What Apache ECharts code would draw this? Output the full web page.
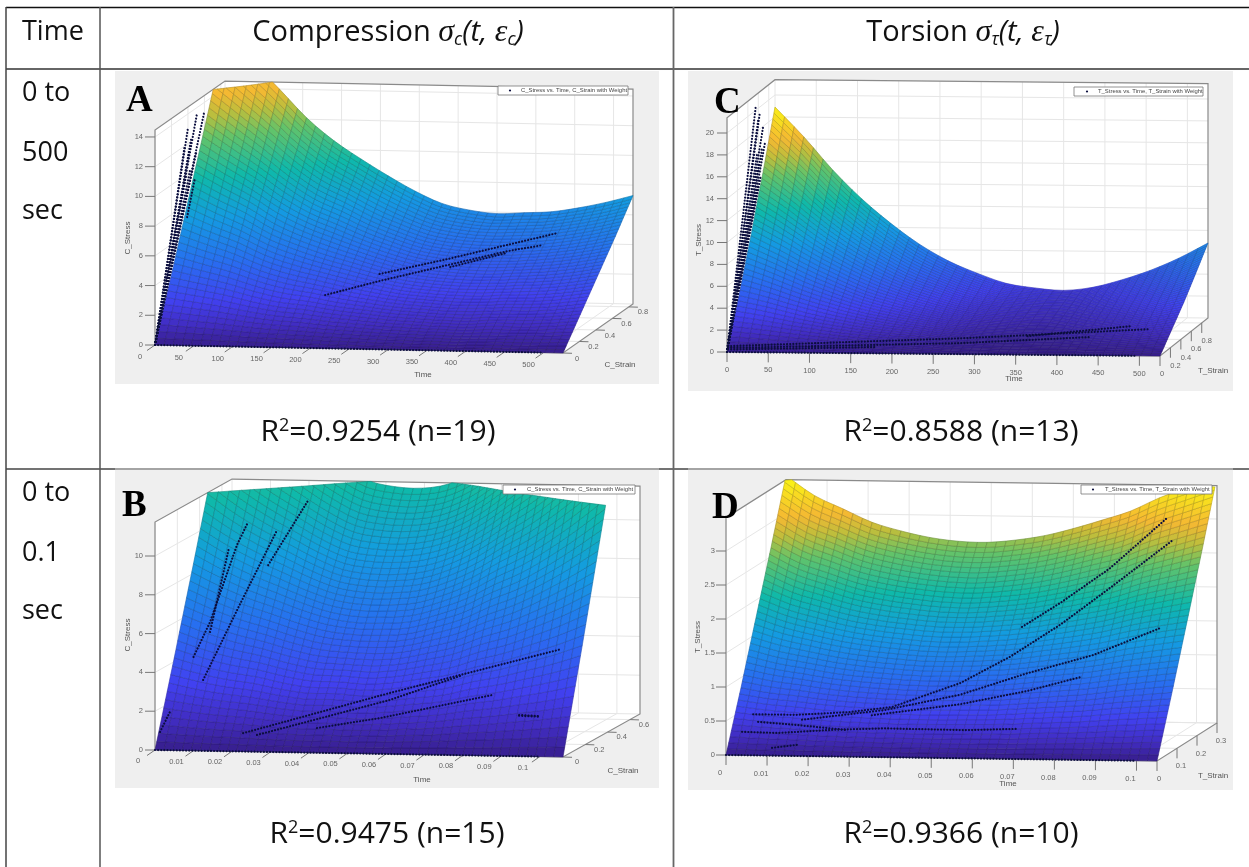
<!DOCTYPE html>
<html><head><meta charset="utf-8">
<style>html,body{margin:0;padding:0;background:#fff}#c{width:1249px;height:867px}</style>
<script src="https://cdn.jsdelivr.net/npm/echarts@6/dist/echarts.min.js"></script>
</head><body><div id="c"></div>
<script>
// ---------- values ----------
const timeA=[0,35,70,105,140,175,210,245,280,315,350,385,420,455,490,525];
const strainA=[0,0.2125,0.425,0.6375,0.85];
const stressA=[
[0,0,0,0,0,0,0,0,0,0,0,0,0,0,0,0],
[4.2,3.8,3.4,2.9,2.5,2.3,2.0,1.8,1.6,1.5,1.4,1.4,1.5,1.5,1.6,1.8],
[8.6,7.7,6.9,5.9,5.2,4.6,4.1,3.6,3.2,3.0,2.9,2.9,3.0,3.1,3.3,3.6],
[13.0,11.7,10.4,9.0,7.8,7.0,6.1,5.4,4.8,4.5,4.4,4.4,4.5,4.7,5.0,5.4],
[17.5,15.8,14.0,12.1,10.6,9.4,8.3,7.3,6.5,6.1,5.9,6.0,6.1,6.4,6.8,7.3]];
const pointsA=[
[[0,0,0],[500,0,0]],
[[0,0,0],[0,0.40,13.05]],
[[0,0,0],[0,0.51,13.6]],
[[0,0,0],[0,0.595,13.3]],
[[0,0,0],[0,0.425,10.1]],
[[0,0,0],[0,0.42,11.5]],
[[0,0,0],[0,0.38,10.0]],
[[0,0,0],[0,0.36,12.0]],
[[0,0,0],[0,0.44,12.2]],
[[0,0,0],[0,0.50,11.0]],
[[0,0.39,7.1],[0,0.485,9.35]],
[[192,0.255,2.57],[262,0.255,3.59],[426,0.255,5.76],[472,0.255,6.22]],
[[262,0.255,4.06],[349,0.255,5.15],[491,0.255,7.05]],
[[353,0.255,4.62],[426,0.255,5.65]]];
const timeTicksA=[0,50,100,150,200,250,300,350,400,450,500];
const stressTicksA=[0,2,4,6,8,10,12,14];
const strainTicksA=[0,0.2,0.4,0.6,0.8];

const timeB=[0,0.0071,0.0141,0.0212,0.0283,0.0353,0.0424,0.0495,0.0565,0.0636,0.0707,0.0777,0.0848,0.0919,0.0989,0.106];
const strainB=[0,0.1725,0.345,0.5175,0.69];
const stressB=[
[0,0,0,0,0,0,0,0,0,0,0,0,0,0,0,0],
[4.2,3.8,3.5,3.3,3.0,2.8,2.8,2.7,2.8,3.0,3.2,3.6,3.9,4.3,4.7,5.2],
[8.5,7.8,7.2,6.7,6.2,5.8,5.6,5.6,5.7,6.1,6.6,7.3,7.9,8.7,9.6,10.6],
[12.9,11.8,10.9,10.1,9.3,8.7,8.5,8.5,8.7,9.2,10.0,11.0,12.0,13.2,14.5,16.0],
[17.4,16.0,14.7,13.6,12.6,11.8,11.5,11.45,11.7,12.4,13.5,14.8,16.2,17.8,19.6,21.6]];
const pointsB=[
[[0,0,0],[0.1,0,0]],
[[0.0003,0.035,0.82],[0.0031,0.035,1.96]],
[[0,0.345,3.69],[0.0043,0.345,5.5],[0.0113,0.345,9.5],[0.0142,0.345,10.7]],
[[0.0043,0.345,4.99],[0.0092,0.345,9.33]],
[[0.0025,0.345,2.51],[0.0121,0.345,6.46],[0.0217,0.345,10.3]],
[[0.0194,0.345,8.49],[0.03,0.345,11.93]],
[[0.0189,0.138,0.49],[0.057,0.138,2.69],[0.1017,0.138,5.11]],
[[0.0225,0.138,0.41],[0.057,0.138,2.33],[0.076,0.138,3.68]],
[[0.0381,0.138,0.82],[0.0545,0.138,1.39],[0.0835,0.138,2.67]],
[[0.0906,0.138,1.67],[0.0955,0.138,1.63]],
[[0.0906,0.138,1.63],[0.0955,0.138,1.6]]];
const timeTicksB=[0,0.01,0.02,0.03,0.04,0.05,0.06,0.07,0.08,0.09,0.1];
const stressTicksB=[0,2,4,6,8,10];
const strainTicksB=[0,0.2,0.4,0.6];

const timeC=[0,35,70,105,140,175,210,245,280,315,350,385,420,455,490,525];
const strainC=[0,0.23,0.46,0.69,0.92];
const stressC=[
[0,0,0,0,0,0,0,0,0,0,0,0,0,0,0,0],
[4.3,3.7,3.0,2.4,1.9,1.5,1.2,0.9,0.7,0.6,0.6,0.6,0.8,1.0,1.25,1.6],
[8.9,7.6,6.2,5.0,3.9,3.1,2.4,1.8,1.4,1.2,1.1,1.3,1.6,2.0,2.6,3.2],
[13.8,11.8,9.6,7.7,6.1,4.7,3.7,2.8,2.2,1.9,1.8,2.0,2.5,3.1,3.95,5.0],
[18.9,16.2,13.2,10.6,8.4,6.5,5.0,3.9,3.0,2.6,2.4,2.7,3.4,4.3,5.45,6.85]];
const pointsC=[
[[0,0,0],[496,0,0]],
[[0,0,0],[0,0.55,20.3]],
[[0,0,0],[0,0.63,19.5]],
[[0,0,0],[0,0.69,17.9]],
[[0,0,0],[0,0.73,16.4]],
[[0,0,0],[0,0.65,13.7]],
[[0,0,0],[0,0.60,19.0]],
[[0,0,0],[0,0.58,16.0]],
[[0,0,0],[0,0.62,15.0]],
[[0,0,0],[0,0.67,16.0]],
[[0,0,0],[0,0.60,13.0]],
[[0,0.02,0.46],[288,0.02,1.39],[512,0.02,2.37]],
[[0,0.02,0.3],[282,0.02,0.93],[439,0.02,1.59]],
[[0,0.02,0.15],[180,0.02,0.5]],
[[363,0.02,1.63],[488,0.02,2.62]]];
const timeTicksC=[0,50,100,150,200,250,300,350,400,450,500];
const stressTicksC=[0,2,4,6,8,10,12,14,16,18,20];
const strainTicksC=[0,0.2,0.4,0.6,0.8];

const timeD=[0,0.007,0.014,0.021,0.028,0.035,0.042,0.049,0.056,0.063,0.07,0.077,0.084,0.091,0.098,0.105];
const strainD=[0,0.075,0.15,0.225,0.3];
const stressD=[
[0,0,0,0,0,0,0,0,0,0,0,0,0,0,0,0],
[0.85,0.78,0.74,0.69,0.66,0.64,0.63,0.63,0.64,0.65,0.68,0.71,0.74,0.79,0.83,0.87],
[1.74,1.60,1.50,1.41,1.35,1.31,1.28,1.28,1.30,1.33,1.39,1.45,1.52,1.62,1.70,1.77],
[2.63,2.41,2.27,2.13,2.04,1.98,1.94,1.93,1.96,2.01,2.09,2.19,2.29,2.44,2.56,2.68],
[3.55,3.26,3.07,2.88,2.76,2.67,2.62,2.61,2.65,2.72,2.83,2.96,3.10,3.30,3.46,3.62]];
const pointsD=[
[[0,0,0],[0.1,0,0]],
[[0.0037,0.06,0.49],[0.0139,0.06,0.49],[0.0268,0.06,0.54],[0.0375,0.06,0.625],[0.0541,0.06,0.99],[0.0663,0.06,1.39],[0.0785,0.06,1.87],[0.0906,0.06,2.42],[0.106,0.06,3.14]],
[[0.0692,0.06,1.83],[0.0785,0.06,2.19],[0.0906,0.06,2.71],[0.1045,0.06,3.46]],
[[0.0156,0.06,0.42],[0.0358,0.06,0.58],[0.0541,0.06,0.82],[0.0705,0.06,1.15],[0.0865,0.06,1.43],[0.1028,0.06,1.84]],
[[0.0049,0.06,0.38],[0.0146,0.06,0.34],[0.0261,0.06,0.28]],
[[0.001,0.06,0.23],[0.0097,0.06,0.22],[0.0236,0.06,0.28],[0.0358,0.06,0.31],[0.0553,0.06,0.30],[0.0682,0.06,0.33]],
[[0.0326,0.06,0.50],[0.0541,0.06,0.68],[0.0705,0.06,0.89],[0.0838,0.06,1.11]],
[[0.0083,0.06,0],[0.0144,0.06,0.05]]];
const timeTicksD=[0,0.01,0.02,0.03,0.04,0.05,0.06,0.07,0.08,0.09,0.1];
const stressTicksD=[0,0.5,1,1.5,2,2.5,3];
const strainTicksD=[0,0.1,0.2,0.3];

const rowLabels=[['0 to','500','sec'],['0 to','0.1','sec']];
const fitLabels=['0.9254 (n=19)','0.9475 (n=15)','0.8588 (n=13)','0.9366 (n=10)'];

// ---------- layout ----------
const panels=[
{t:timeA,s:strainA,z:stressA,pts:pointsA,tt:timeTicksA,zt:stressTicksA,st:strainTicksA,letter:'A',
 zName:'C_Stress',sName:'C_Strain',legend:'C_Stress vs. Time, C_Strain with Weight',
 box:[115,71,659,384],O:[155,345],ex:[408,8],ey:[70,-49],u:14.86,zMax:14.46,cMax:16.5,slant:true,
 tLab:[-15,12],sLab:[14,5.5],zLabX:143,tTitle:[423,375],sTitle:[620,365],zTitle:[128,238],
 leg:[498,86,628,95],dot:510,legText:521,let:[126,120]},
{t:timeB,s:strainB,z:stressB,pts:pointsB,tt:timeTicksB,zt:stressTicksB,st:strainTicksB,letter:'B',
 zName:'C_Stress',sName:'C_Strain',legend:'C_Stress vs. Time, C_Strain with Weight',
 box:[115,470,659,788],O:[155,750],ex:[408,7],ey:[77,-43],u:19.4,zMax:11.75,cMax:20,slant:true,
 tLab:[-17,11],sLab:[14,5],zLabX:143,tTitle:[422,780],sTitle:[623,771],zTitle:[128,635],
 leg:[503,485,635,494],dot:515,legText:527,let:[122,525]},
{t:timeC,s:strainC,z:stressC,pts:pointsC,tt:timeTicksC,zt:stressTicksC,st:strainTicksC,letter:'C',
 zName:'T_Stress',sName:'T_Strain',legend:'T_Stress vs. Time, T_Strain with Weight',
 box:[688,71,1233,391],O:[727,352],ex:[433,4],ey:[48,-38],u:10.95,zMax:21.4,cMax:18.9,slant:false,
 tLab:[0,18],sLab:[5,18],zLabX:714,tTitle:[1014,379],sTitle:[1213,371],zTitle:[699,240],
 leg:[1074,87,1203,96],dot:1087,legText:1098,let:[714,122]},
{t:timeD,s:strainD,z:stressD,pts:pointsD,tt:timeTicksD,zt:stressTicksD,st:strainTicksD,letter:'D',
 zName:'T_Stress',sName:'T_Strain',legend:'T_Stress vs. Time, T_Strain with Weight',
 box:[688,470,1233,790],O:[726,755],ex:[431,6],ey:[60,-38],u:68,zMax:3.49,cMax:3.5,slant:false,
 tLab:[-6,18],sLab:[4,18],zLabX:715,tTitle:[1008,784],sTitle:[1213,776],zTitle:[698,637],
 leg:[1081,485,1212,494],dot:1093,legText:1105,let:[712,527]}
];
const SUB_T=3, SUB_S=11;
const ramp=[[0,55,30,140],[0.07,65,45,195],[0.15,65,65,240],[0.28,40,110,240],[0.43,20,155,225],[0.57,15,185,170],[0.71,100,195,105],[0.79,190,190,60],[0.86,245,185,50],[1,250,245,20]];
function rampColor(v){
  v=Math.max(0,Math.min(1,v));
  let i=0;while(i<ramp.length-2&&v>ramp[i+1][0])i++;
  const a=ramp[i],b=ramp[i+1],f=(v-a[0])/(b[0]-a[0]);
  return [1,2,3].map(k=>a[k]+(b[k]-a[k])*f);
}
function project(p,t,s,z){
  const T=p.t[p.t.length-1],S=p.s[p.s.length-1];
  return [t+(s/S)*(p.ey[0]/p.ex[0])*T, z-(s/S)*p.ey[1]/p.u-(t/T)*p.ex[1]/p.u];
}
function clipTop(poly,zMax){
  const out=[];
  for(let i=0;i<poly.length;i++){
    const a=poly[i],b=poly[(i+1)%poly.length],ai=a[2]<=zMax,bi=b[2]<=zMax;
    if(ai)out.push(a);
    if(ai!==bi){const k=(zMax-a[2])/(b[2]-a[2]);out.push([a[0]+(b[0]-a[0])*k,a[1]+(b[1]-a[1])*k,zMax]);}
  }
  return out;
}
// the drawn mesh is finer than the table: each table row is drawn as a smooth curve through its values
function curve(row,c,u){
  const n=row.length,p1=row[c],p2=row[c+1];
  const p0=c>0?row[c-1]:2*p1-p2,p3=c+2<n?row[c+2]:2*p2-p1;
  return 0.5*(2*p1+(p2-p0)*u+(2*p0-5*p1+4*p2-p3)*u*u+(3*p1-p0-3*p2+p3)*u*u*u);
}
function buildCells(p){
  const cells=[];
  for(let r=0;r<p.s.length-1;r++)for(let c=0;c<p.t.length-1;c++){
    const at=(u,v)=>[p.t[c]+(p.t[c+1]-p.t[c])*u,p.s[r]+(p.s[r+1]-p.s[r])*v,
      curve(p.z[r],c,u)*(1-v)+curve(p.z[r+1],c,u)*v];
    for(let j=0;j<SUB_S;j++)for(let i=0;i<SUB_T;i++){
      const u0=i/SUB_T,u1=(i+1)/SUB_T,v0=j/SUB_S,v1=(j+1)/SUB_S;
      const poly=clipTop([at(u0,v0),at(u1,v0),at(u1,v1),at(u0,v1)],p.zMax);
      if(poly.length>2)cells.push(poly);
    }
  }
  return cells;
}
const LABEL='Liberation Sans';
function frameItems(p){
  const T=p.t[p.t.length-1],S=p.s[p.s.length-1],Z=p.zMax,it=[];
  const poly=(pts,fill)=>it.push({k:'poly',pts,fill});
  const line=(pts,c,w,off)=>it.push({k:'line',pts,c,w,off});
  const txt=(pt,off,text,o)=>it.push(Object.assign({k:'text',pt,off,text},o||{}));
  poly([[0,S,0],[T,S,0],[T,S,Z],[0,S,Z]],'#fff');
  poly([[0,0,0],[0,S,0],[0,S,Z],[0,0,Z]],'#fff');
  poly([[0,0,0],[T,0,0],[T,S,0],[0,S,0]],'#fff');
  const grid='#e6e6e6';
  p.tt.forEach(v=>{line([[v,S,0],[v,S,Z]],grid,1);line([[v,0,0],[v,S,0]],grid,1);});
  p.zt.forEach(v=>{line([[0,0,v],[0,S,v]],grid,1);line([[0,S,v],[T,S,v]],grid,1);});
  p.st.forEach(v=>{line([[0,v,0],[T,v,0]],grid,1);line([[0,v,0],[0,v,Z]],grid,1);});
  const edge='#8a8a8a';
  line([[0,0,0],[0,0,Z],[0,S,Z],[T,S,Z],[T,S,0],[T,0,0],[0,0,0]],edge,1.2);
  p.tt.forEach(v=>{
    line([[v,0,0]],'#777',1,p.slant?[-8,5.5]:[0,10]);
    txt([v,0,0],p.tLab,String(v));
  });
  p.zt.forEach(v=>{
    line([[0,0,v]],'#777',1,[-10,0]);
    txt([0,0,v],[p.zLabX-p.O[0],0],String(v),{align:'right'});
  });
  p.st.forEach(v=>{
    line([[T,v,0]],'#777',1,p.slant?[9,0.3]:[0,10]);
    txt([T,v,0],v===0?[p.slant?p.sLab[0]:2,p.sLab[1]]:p.sLab,String(v));
  });
  return it;
}
function frameRender(p,items){
  return function(params,api){
    const d=items[params.dataIndex];
    const pos=q=>api.coord(project(p,q[0],q[1],q[2]));
    if(d.k==='poly')return {type:'polygon',shape:{points:d.pts.map(pos)},style:{fill:d.fill,stroke:null}};
    if(d.k==='line'){
      let pts=d.pts.map(pos);
      if(d.off)pts=[pts[0],[pts[0][0]+d.off[0],pts[0][1]+d.off[1]]];
      return {type:'polyline',shape:{points:pts},style:{stroke:d.c,lineWidth:d.w,fill:null}};
    }
    const q=pos(d.pt);
    return {type:'text',style:{x:q[0]+d.off[0],y:q[1]+d.off[1],text:d.text,fill:'#666',
      font:'7.5px "'+LABEL+'"',align:d.align||'center',verticalAlign:'middle'}};
  };
}
const grids=[],xAxes=[],yAxes=[],series=[];
panels.forEach((p,i)=>{
  const T=p.t[p.t.length-1];
  grids.push({left:p.O[0],width:p.ex[0],top:p.O[1]-p.zMax*p.u,height:p.zMax*p.u,show:false});
  xAxes.push({type:'value',gridIndex:i,min:0,max:T,show:false});
  yAxes.push({type:'value',gridIndex:i,min:0,max:p.zMax,show:false});
  const items=frameItems(p);
  series.push({type:'custom',name:p.letter+' frame',xAxisIndex:i,yAxisIndex:i,z:2,silent:true,
    renderItem:frameRender(p,items),data:items.map((_,k)=>[k]),progressive:0,animation:false});
  const cells=buildCells(p);
  series.push({type:'custom',name:p.letter+' surface',xAxisIndex:i,yAxisIndex:i,z:3,silent:true,
    renderItem(params,api){
      const poly=cells[params.dataIndex];
      let m=0;poly.forEach(q=>m+=q[2]);m/=poly.length;
      const c=rampColor(m/p.cMax);
      const rgb=k=>'rgb('+c.map(x=>Math.round(x*k)).join(',')+')';
      return {type:'polygon',shape:{points:poly.map(q=>api.coord(project(p,q[0],q[1],q[2])))},
        style:{fill:rgb(1),stroke:rgb(0.75),lineWidth:0.6}};
    },data:cells.map((_,k)=>[k]),progressive:0,animation:false});
  series.push({type:'custom',name:p.zName+' vs. Time, '+p.sName,xAxisIndex:i,yAxisIndex:i,z:4,silent:true,
    renderItem(params,api){
      return {type:'polyline',shape:{points:p.pts[params.dataIndex].map(q=>api.coord(project(p,q[0],q[1],q[2])))},
        style:{stroke:'#0b0e3e',lineWidth:2.2,fill:null,lineCap:'round',lineDash:[0.01,3.1]}};
    },data:p.pts.map((_,k)=>[k]),progressive:0,animation:false});
});
// ---------- table, titles, legends ----------
const g=[];
const BODY='"Open Sans"';
const vline=(x,y0,y1,c,w,z)=>g.push({type:'line',z:z||0,shape:{x1:x,y1:y0,x2:x,y2:y1},style:{stroke:c,lineWidth:w}});
const hline=(y,x0,x1,c,w,z)=>g.push({type:'line',z:z||0,shape:{x1:x0,y1:y,x2:x1,y2:y},style:{stroke:c,lineWidth:w}});
hline(7.5,6,1249,'#111',1.5);
hline(69,6,1249,'#333',1.5);
hline(469,6,1249,'#444',1.5);
vline(6,7,867,'#444',1.5);
vline(100,7,867,'#555',1.5);
vline(673.5,7,867,'#666',1.8);
const cellText=(x,y,text,o)=>g.push({type:'text',z:20,style:Object.assign({x,y:y+2,text,fill:'#111',font:'27px '+BODY,align:'left',verticalAlign:'middle'},o||{})});
cellText(22,30,'Time');
rowLabels.forEach((rows,r)=>{const ys=r?[491,551,609]:[91,151,209];rows.forEach((t,i)=>cellText(22,ys[i],t));});
const richTitle={
  sig:{font:'italic 32px "Liberation Serif"',fill:'#111'},
  it:{font:'italic 29px '+BODY,fill:'#111'},
  sub:{font:'italic 18px '+BODY,fill:'#111',verticalAlign:'bottom',padding:[9,0,0,0]}
};
cellText(388,31,'Compression {sig|σ}{sub|c}{it|(t, }{sig|ε}{sub|c}{it|)}',{align:'center',rich:richTitle,font:'29px '+BODY});
cellText(963,31,'Torsion {sig|σ}{sub|τ}{it|(t, }{sig|ε}{sub|τ}{it|)}',{align:'center',rich:richTitle,font:'29px '+BODY});
const richFit={sup:{font:'18px '+BODY,fill:'#111',verticalAlign:'top',padding:[0,0,10,0]}};
[[378,430],[387,832],[961,430],[961,832]].forEach((q,i)=>
  cellText(q[0],q[1],'R{sup|2}='+fitLabels[i],{align:'center',rich:richFit,font:'30px '+BODY}));
panels.forEach(p=>{
  const b=p.box;
  g.push({type:'rect',z:1,shape:{x:b[0],y:b[1],width:b[2]-b[0],height:b[3]-b[1]},style:{fill:'#efefef'}});
  if(p.letter==='B'||p.letter==='D')hline(469,b[0],b[2],'#b5b5b5',1.5,2);
  const lt=(pos,text,o)=>g.push({type:'text',z:20,style:Object.assign({x:pos[0],y:pos[1],text,fill:'#555',
    font:'8px "'+LABEL+'"',align:'center',verticalAlign:'middle'},o||{})});
  lt(p.tTitle,'Time');
  lt(p.sTitle,p.sName);
  g.push({type:'text',z:20,x:p.zTitle[0],y:p.zTitle[1],rotation:Math.PI/2,
    style:{x:0,y:0,text:p.zName,fill:'#555',font:'8px "'+LABEL+'"',align:'center',verticalAlign:'middle'}});
  const l=p.leg;
  g.push({type:'rect',z:20,shape:{x:l[0],y:l[1],width:l[2]-l[0],height:l[3]-l[1]},style:{fill:'#fff',stroke:'#777',lineWidth:0.8}});
  g.push({type:'circle',z:21,shape:{cx:p.dot,cy:(l[1]+l[3])/2,r:1.1},style:{fill:'#0b0e3e'}});
  lt([p.legText,(l[1]+l[3])/2],p.legend,{align:'left',font:'5.9px "'+LABEL+'"',fill:'#444'});
  g.push({type:'text',z:30,style:{x:p.let[0],y:p.let[1],text:p.letter,fill:'#000',
    font:'bold 37px "Liberation Serif"',align:'left',verticalAlign:'bottom'}});
});
const chart=echarts.init(document.getElementById('c'));
chart.setOption({animation:false,backgroundColor:'#fff',grid:grids,xAxis:xAxes,yAxis:yAxes,series,graphic:{elements:g}});
</script></body></html>
